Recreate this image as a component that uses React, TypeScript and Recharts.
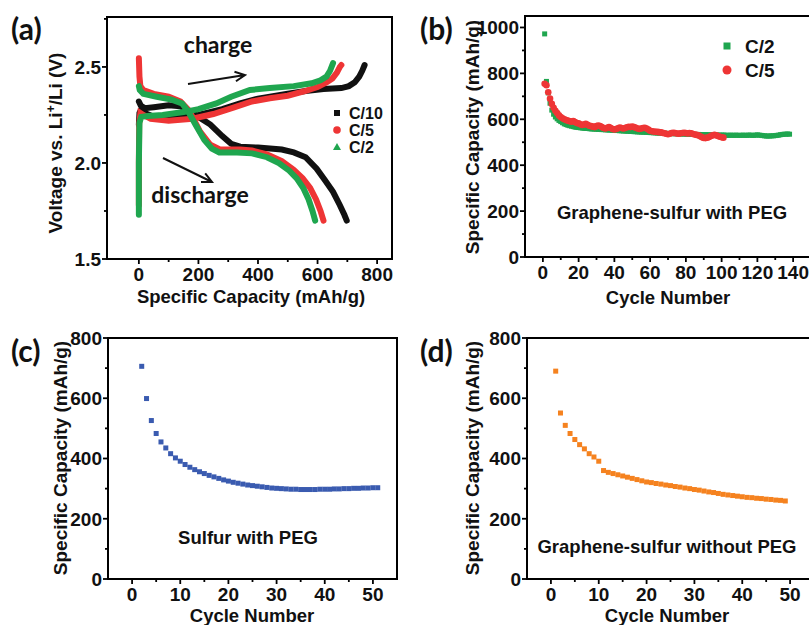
import React from 'react'
import { LineChart, Line, ScatterChart, Scatter, XAxis, YAxis, ReferenceArea } from 'recharts'

const SANS = 'Arial, "Liberation Sans", Helvetica, sans-serif'
const CAL = 'Lato, "Open Sans", sans-serif'

const BLACK = '#111111'
const RED = '#ee3535'
const GREEN = '#1fa64f'
const BLUE = '#3a5bb0'
const ORANGE = '#f5821f'

// ── (a) voltage profiles: [capacity mAh/g, voltage V] ─────────────────────
const C10_CHARGE = [[0, 2.2], [2, 2.26], [8, 2.28], [20, 2.26], [50, 2.24], [120, 2.24], [200, 2.25], [280, 2.28], [340, 2.31], [400, 2.335], [440, 2.345], [500, 2.36], [560, 2.375], [620, 2.385], [680, 2.39], [705, 2.4], [725, 2.42], [740, 2.45], [750, 2.48], [758, 2.51]]
const C5_CHARGE = [[0, 1.78], [0, 2.0], [1, 2.2], [5, 2.26], [15, 2.25], [40, 2.23], [100, 2.22], [180, 2.23], [250, 2.255], [320, 2.29], [380, 2.32], [440, 2.337], [500, 2.35], [560, 2.375], [600, 2.395], [630, 2.42], [650, 2.44], [665, 2.47], [675, 2.5], [680, 2.51]]
const C2_CHARGE = [[0, 1.73], [0, 1.78], [0, 2.0], [2, 2.21], [8, 2.24], [30, 2.245], [80, 2.25], [150, 2.265], [200, 2.28], [260, 2.31], [310, 2.345], [373, 2.38], [440, 2.39], [520, 2.4], [580, 2.415], [610, 2.43], [630, 2.45], [642, 2.48], [652, 2.52]]

const C10_DIS = [[0, 2.32], [6, 2.3], [20, 2.285], [50, 2.29], [100, 2.3], [140, 2.295], [170, 2.27], [200, 2.24], [240, 2.2], [280, 2.14], [310, 2.1], [340, 2.085], [400, 2.08], [480, 2.07], [520, 2.055], [560, 2.03], [597, 1.97], [625, 1.91], [652, 1.85], [675, 1.78], [690, 1.73], [698, 1.7]]
const C5_DIS = [[0, 2.545], [2, 2.45], [5, 2.4], [15, 2.38], [50, 2.36], [100, 2.345], [140, 2.32], [170, 2.27], [205, 2.165], [240, 2.095], [272, 2.07], [340, 2.07], [380, 2.065], [430, 2.045], [480, 2.01], [520, 1.965], [550, 1.92], [575, 1.87], [595, 1.81], [610, 1.75], [620, 1.7]]
const C2_DIS = [[0, 2.4], [3, 2.38], [15, 2.36], [60, 2.345], [110, 2.33], [145, 2.31], [165, 2.27], [190, 2.2], [220, 2.12], [245, 2.075], [270, 2.055], [330, 2.055], [380, 2.05], [430, 2.03], [470, 2.0], [505, 1.96], [530, 1.92], [552, 1.87], [570, 1.81], [583, 1.75], [592, 1.7]]

// ── (b) graphene-sulfur with PEG, capacity per cycle (from cycle 1) ───────
const GS_PEG_C2 = [
  972, 765, 715, 670, 640, 622, 610, 602, 595, 590,
  585, 580, 577, 574, 572, 570, 568, 566, 565, 564,
  563, 562, 561, 560, 560, 559, 558, 558, 557, 557,
  556, 556, 555, 555, 554, 554, 553, 553, 552, 552,
  551, 551, 550, 550, 549, 549, 548, 548, 547, 547,
  546, 546, 545, 545, 544, 544, 544, 543, 543, 542,
  542, 541, 541, 540, 540, 540, 539, 539, 539, 538,
  538, 538, 537, 537, 537, 536, 536, 536, 536, 535,
  535, 535, 535, 534, 534, 534, 534, 533, 533, 533,
  533, 533, 532, 532, 532, 532, 532, 531, 531, 531,
  531, 531, 530, 530, 531, 530, 530, 531, 530, 530,
  530, 531, 530, 530, 531, 531, 530, 530, 531, 532,
  531, 530, 529, 528, 527, 527, 527, 528, 528, 529,
  530, 531, 533, 534, 535, 535, 536, 535,
]
const GS_PEG_C5 = [
  755, 748, 718, 690, 667, 650, 637, 627, 617, 610,
  604, 600, 597, 594, 591, 590, 592, 588, 584, 582,
  578, 575, 577, 580, 576, 572, 570, 568, 566, 570,
  573, 571, 566, 562, 560, 563, 566, 562, 558, 556,
  558, 561, 564, 562, 560, 562, 565, 567, 566, 568,
  566, 563, 560, 558, 560, 562, 563, 560, 555, 550,
  548, 547, 546, 545, 544, 543, 541, 539, 537, 535,
  537, 540, 541, 540, 538, 537, 539, 540, 541, 540,
  538, 540, 539, 536, 534, 532, 530, 526, 522, 519,
  518, 520, 523, 527, 530, 532, 530, 527, 524, 522, 520,
]

// ── (c) sulfur with PEG (from cycle 2) ─────────────────────────────────────
const S_PEG_START = 2
const S_PEG = [
  706, 599, 526, 483, 455, 435, 416, 402, 391,
  380, 371, 363, 356, 350, 344, 339, 334, 329, 325,
  321, 318, 315, 312, 310, 308, 306, 304, 302, 301,
  300, 299, 298, 298, 297, 297, 297, 297, 298, 298,
  298, 299, 299, 300, 300, 301, 301, 302, 302, 303, 303,
]

// ── (d) graphene-sulfur without PEG (from cycle 1) ────────────────────────
const GS_NOPEG = [
  690, 551, 510, 483, 463, 446, 432, 416, 405, 391,
  360, 354, 350, 346, 342, 338, 334, 330, 326, 322,
  320, 317, 315, 312, 310, 307, 305, 302, 300, 297,
  295, 292, 289, 287, 284, 281, 279, 277, 275, 273,
  271, 270, 268, 267, 265, 264, 262, 261, 259,
]

// ── axis ticks ─────────────────────────────────────────────────────────────
const A_X_MAJOR = [0, 200, 400, 600, 800]
const A_X_MINOR = [100, 300, 500, 700]
const A_Y_MAJOR = [1.5, 2.0, 2.5]
const A_Y_MINOR = [1.75, 2.25, 2.75]
const B_X_MAJOR = [0, 20, 40, 60, 80, 100, 120, 140]
const B_X_MINOR = [10, 30, 50, 70, 90, 110, 130]
const B_Y_MAJOR = [0, 200, 400, 600, 800, 1000]
const B_Y_MINOR = [100, 300, 500, 700, 900]
const CD_X_MAJOR = [0, 10, 20, 30, 40, 50]
const CD_X_MINOR = [5, 15, 25, 35, 45]
const CD_Y_MAJOR = [0, 200, 400, 600, 800]
const CD_Y_MINOR = [100, 300, 500, 700]

const toPts = (arr: number[][]) => arr.map(([x, y]) => ({ x, y }))
const byCycle = (arr: number[], start = 1) => arr.map((y, i) => ({ x: i + start, y }))
const all = (a: number[], b: number[]) => [...a, ...b].sort((p, q) => p - q)
const isMajor = (majors: number[], v: number) => majors.some(m => Math.abs(m - v) < 1e-9)

const TICK_FONT = 19

function leftTick(majors: number[], fmt: (v: number) => string) {
  return (p: any) => {
    const { x, y, payload } = p
    const major = isMajor(majors, payload.value)
    return (
      <g>
        <line x1={x} x2={x - (major ? 5 : 3)} y1={y} y2={y} stroke="#000" strokeWidth={1.8} />
        {major && (
          <text x={x - 6} y={y} dy="0.36em" textAnchor="end" fontFamily={SANS} fontWeight="bold" fontSize={TICK_FONT} fill="#111">
            {fmt(payload.value)}
          </text>
        )}
      </g>
    )
  }
}

function bottomTick(majors: number[]) {
  return (p: any) => {
    const { x, y, payload } = p
    const major = isMajor(majors, payload.value)
    return (
      <g>
        <line x1={x} x2={x} y1={y} y2={y + (major ? 5 : 3)} stroke="#000" strokeWidth={1.8} />
        {major && (
          <text x={x} y={y + 22} textAnchor="middle" fontFamily={SANS} fontWeight="bold" fontSize={TICK_FONT} fill="#111">
            {payload.value}
          </text>
        )}
      </g>
    )
  }
}

const square = (s: number) => (p: any) => <rect x={p.cx - s / 2} y={p.cy - s / 2} width={s} height={s} fill={p.fill} />
const circle = (r: number) => (p: any) => <circle cx={p.cx} cy={p.cy} r={r} fill={p.fill} />

function arrow(x1: number, y1: number, x2: number, y2: number, head = 11) {
  const a = Math.atan2(y2 - y1, x2 - x1)
  const h1 = [x2 - head * Math.cos(a - 0.45), y2 - head * Math.sin(a - 0.45)]
  const h2 = [x2 - head * Math.cos(a + 0.45), y2 - head * Math.sin(a + 0.45)]
  return `M${x1},${y1} L${x2},${y2} M${h1[0]},${h1[1]} L${x2},${y2} L${h2[0]},${h2[1]}`
}

const bold = { fontFamily: SANS, fontWeight: 'bold' as const, fill: '#111' }

export default function App() {
  const aX: [number, number] = [-107, 850]
  const aY: [number, number] = [1.5, 2.76]
  const bX: [number, number] = [-10, 150]
  const bY: [number, number] = [0, 1050]
  const cdX: [number, number] = [-5, 55]
  const cdY: [number, number] = [0, 800]
  const lw = 6

  return (
    <div style={{ position: 'absolute', left: 0, top: 0, width: 809, height: 625, overflow: 'hidden', background: '#fff' }}>
      {/* (a) */}
      <div style={{ position: 'absolute', left: 0, top: 0 }}>
        <LineChart width={405} height={310} margin={{ top: 17, right: 13, bottom: 21, left: 47 }}>
          <XAxis type="number" dataKey="x" domain={aX} ticks={all(A_X_MAJOR, A_X_MINOR)} interval={0} height={30}
            axisLine={false} tickLine={false} tickSize={0} tickMargin={0} tick={bottomTick(A_X_MAJOR)} allowDataOverflow />
          <YAxis type="number" domain={aY} ticks={all(A_Y_MAJOR, A_Y_MINOR)} interval={0} width={60}
            axisLine={false} tickLine={false} tickSize={0} tickMargin={0} tick={leftTick(A_Y_MAJOR, v => v.toFixed(1))} allowDataOverflow />
          <ReferenceArea x1={aX[0]} x2={aX[1]} y1={aY[0]} y2={aY[1]} fill="none" stroke="#000" strokeWidth={2} ifOverflow="visible" />
          <Line data={toPts(C10_CHARGE)} dataKey="y" stroke={BLACK} strokeWidth={lw} dot={false} isAnimationActive={false} strokeLinecap="round" />
          <Line data={toPts(C10_DIS)} dataKey="y" stroke={BLACK} strokeWidth={lw} dot={false} isAnimationActive={false} strokeLinecap="round" />
          <Line data={toPts(C5_CHARGE)} dataKey="y" stroke={RED} strokeWidth={lw} dot={false} isAnimationActive={false} strokeLinecap="round" />
          <Line data={toPts(C5_DIS)} dataKey="y" stroke={RED} strokeWidth={lw} dot={false} isAnimationActive={false} strokeLinecap="round" />
          <Line data={toPts(C2_CHARGE)} dataKey="y" stroke={GREEN} strokeWidth={lw} dot={false} isAnimationActive={false} strokeLinecap="round" />
          <Line data={toPts(C2_DIS)} dataKey="y" stroke={GREEN} strokeWidth={lw} dot={false} isAnimationActive={false} strokeLinecap="round" />
        </LineChart>
      </div>

      {/* (b) */}
      <div style={{ position: 'absolute', left: 410, top: 0 }}>
        <ScatterChart width={410} height={310} margin={{ top: 16, right: 9, bottom: 23, left: 55 }}>
          <XAxis type="number" dataKey="x" domain={bX} ticks={all(B_X_MAJOR, B_X_MINOR)} interval={0} height={30}
            axisLine={false} tickLine={false} tickSize={0} tickMargin={0} tick={bottomTick(B_X_MAJOR)} allowDataOverflow />
          <YAxis type="number" dataKey="y" domain={bY} ticks={all(B_Y_MAJOR, B_Y_MINOR)} interval={0} width={60}
            axisLine={false} tickLine={false} tickSize={0} tickMargin={0} tick={leftTick(B_Y_MAJOR, v => String(v))} allowDataOverflow />
          <ReferenceArea x1={bX[0]} x2={bX[1]} y1={bY[0]} y2={bY[1]} fill="none" stroke="#000" strokeWidth={2} ifOverflow="visible" />
          <Scatter data={byCycle(GS_PEG_C2)} fill={GREEN} shape={square(5)} isAnimationActive={false} />
          <Scatter data={byCycle(GS_PEG_C5)} fill={RED} shape={circle(3.3)} isAnimationActive={false} />
        </ScatterChart>
      </div>

      {/* (c) */}
      <div style={{ position: 'absolute', left: 0, top: 310 }}>
        <ScatterChart width={410} height={315} margin={{ top: 28, right: 13, bottom: 16, left: 48 }}>
          <XAxis type="number" dataKey="x" domain={cdX} ticks={all(CD_X_MAJOR, CD_X_MINOR)} interval={0} height={30}
            axisLine={false} tickLine={false} tickSize={0} tickMargin={0} tick={bottomTick(CD_X_MAJOR)} allowDataOverflow />
          <YAxis type="number" dataKey="y" domain={cdY} ticks={all(CD_Y_MAJOR, CD_Y_MINOR)} interval={0} width={60}
            axisLine={false} tickLine={false} tickSize={0} tickMargin={0} tick={leftTick(CD_Y_MAJOR, v => String(v))} allowDataOverflow />
          <ReferenceArea x1={cdX[0]} x2={cdX[1]} y1={cdY[0]} y2={cdY[1]} fill="none" stroke="#000" strokeWidth={2} ifOverflow="visible" />
          <Scatter data={byCycle(S_PEG, S_PEG_START)} fill={BLUE} shape={square(5)} isAnimationActive={false} />
        </ScatterChart>
      </div>

      {/* (d) */}
      <div style={{ position: 'absolute', left: 410, top: 310 }}>
        <ScatterChart width={415} height={315} margin={{ top: 28, right: 11, bottom: 16, left: 57 }}>
          <XAxis type="number" dataKey="x" domain={cdX} ticks={all(CD_X_MAJOR, CD_X_MINOR)} interval={0} height={30}
            axisLine={false} tickLine={false} tickSize={0} tickMargin={0} tick={bottomTick(CD_X_MAJOR)} allowDataOverflow />
          <YAxis type="number" dataKey="y" domain={cdY} ticks={all(CD_Y_MAJOR, CD_Y_MINOR)} interval={0} width={60}
            axisLine={false} tickLine={false} tickSize={0} tickMargin={0} tick={leftTick(CD_Y_MAJOR, v => String(v))} allowDataOverflow />
          <ReferenceArea x1={cdX[0]} x2={cdX[1]} y1={cdY[0]} y2={cdY[1]} fill="none" stroke="#000" strokeWidth={2} ifOverflow="visible" />
          <Scatter data={byCycle(GS_NOPEG)} fill={ORANGE} shape={square(5)} isAnimationActive={false} />
        </ScatterChart>
      </div>

      {/* annotations */}
      <svg width={809} height={625} style={{ position: 'absolute', left: 0, top: 0, pointerEvents: 'none' }}>
        <g fontFamily={CAL} fontWeight="bold" fill="#111" fontSize={30}>
          <text x={11} y={40}>(a)</text>
          <text x={420} y={40}>(b)</text>
          <text x={11} y={362}>(c)</text>
          <text x={420} y={362}>(d)</text>
        </g>

        {/* (a) */}
        <text x={218} y={53} textAnchor="middle" fontFamily={CAL} fontWeight="bold" fontSize={23} fill="#111">charge</text>
        <text x={200} y={203} textAnchor="middle" fontFamily={CAL} fontWeight="bold" fontSize={23} fill="#111">discharge</text>
        <path d={arrow(188, 84, 245, 75)} stroke="#111" strokeWidth={2} fill="none" />
        <path d={arrow(163, 158, 212, 182)} stroke="#111" strokeWidth={2} fill="none" />
        <text {...bold} fontSize={19} textAnchor="middle" transform="translate(55,143) rotate(-90)" dy="0.35em">
          Voltage vs. Li<tspan dy="-7" fontSize={12}>+</tspan><tspan dy="7">/Li (V)</tspan>
        </text>
        <text {...bold} fontSize={18.5} x={251} y={303} textAnchor="middle">Specific Capacity (mAh/g)</text>
        <rect x={334} y={110} width={6} height={6} fill={BLACK} />
        <circle cx={337} cy={130} r={3.8} fill={RED} />
        <path d="M337,143 L341,150 L333,150 Z" fill={GREEN} />
        <g {...bold} fontSize={16}>
          <text x={349} y={119}>C/10</text>
          <text x={349} y={136}>C/5</text>
          <text x={349} y={153}>C/2</text>
        </g>

        {/* (b) */}
        <text {...bold} fontSize={19} textAnchor="middle" transform="translate(472,137) rotate(-90)" dy="0.35em">Specific Capacity (mAh/g)</text>
        <text {...bold} fontSize={18.5} x={668} y={304} textAnchor="middle">Cycle Number</text>
        <text {...bold} fontSize={18.5} x={672} y={219} textAnchor="middle">Graphene-sulfur with PEG</text>
        <rect x={723.5} y={42.5} width={7} height={7} fill={GREEN} />
        <circle cx={727} cy={70} r={4.5} fill={RED} />
        <g {...bold} fontSize={19}>
          <text x={745} y={53}>C/2</text>
          <text x={745} y={77}>C/5</text>
        </g>

        {/* (c) */}
        <text {...bold} fontSize={19} textAnchor="middle" transform="translate(60,458) rotate(-90)" dy="0.35em">Specific Capacity (mAh/g)</text>
        <text {...bold} fontSize={18.5} x={252} y={622} textAnchor="middle">Cycle Number</text>
        <text {...bold} fontSize={18.5} x={248} y={544} textAnchor="middle">Sulfur with PEG</text>

        {/* (d) */}
        <text {...bold} fontSize={19} textAnchor="middle" transform="translate(472,458) rotate(-90)" dy="0.35em">Specific Capacity (mAh/g)</text>
        <text {...bold} fontSize={18.5} x={667} y={622} textAnchor="middle">Cycle Number</text>
        <text {...bold} fontSize={18.5} x={667} y={553} textAnchor="middle">Graphene-sulfur without PEG</text>
      </svg>
    </div>
  )
}
